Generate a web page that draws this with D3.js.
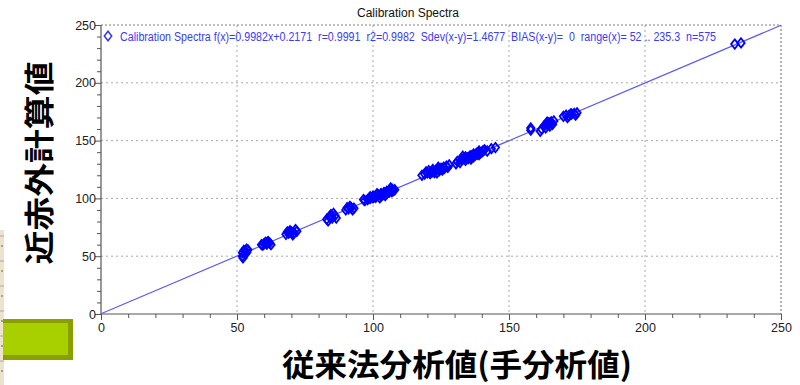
<!DOCTYPE html>
<html>
<head>
<meta charset="utf-8">
<script src="https://cdn.jsdelivr.net/npm/d3@7"></script>
<style>
  html, body { margin: 0; padding: 0; background: #ffffff; }
  svg { display: block; }
</style>
</head>
<body>
<svg id="chart" width="800" height="385"></svg>
<script>
// Reference (conventional, manual) analysis values
const refValues = [
  52, 52.5, 53, 53.5, 52, 52.2, 53, 54, 52.8, 53.6,
  59, 60, 61, 62, 60.5, 59.5, 61.5, 62.5, 60.8, 61.2,
  68, 69, 70, 71, 69.5, 70.5, 72, 68.5, 71.5, 70.2, 69.2,
  83, 84, 85, 86, 84.5, 83.5, 85.5, 86.5, 84.8,
  90, 91, 92, 93, 91.5, 92.5, 90.5, 91.8,
  97, 98, 99, 100, 100, 101, 102, 103, 103, 104, 105, 105, 106, 106, 107, 107, 108, 101.5, 104.5, 99, 102.5, 106.5, 96.5,
  100.5, 101.8, 102.8, 103.6, 104.2, 105.3, 105.8, 106.8, 107.5, 98.5,
  118, 119, 120, 121, 122, 122, 123, 124, 125, 124, 126, 127, 125.5, 120.5, 123.5, 128, 119.5,
  121.5, 122.6, 123.2, 124.4, 125.2, 126.3, 121, 127.5,
  131, 132, 133, 134, 134, 135, 136, 137, 137, 138, 139, 139, 140, 141, 136, 133, 142, 143.5, 145, 130.5,
  132.5, 133.6, 134.8, 135.5, 136.4, 137.6, 138.4, 139.6, 140.5, 135, 138.8,
  158, 158,
  162, 163, 164, 165, 166, 164, 166.5, 163.5, 165, 161.5, 164.6, 165.5,
  170, 171, 172, 173, 174, 175, 174.5, 171.5, 172.6,
  233, 235.3
];
// NIR predicted values
const nirValues = [
  53, 55, 54, 56, 50, 48.5, 52, 55.5, 54.5, 53.2,
  60, 61, 60.5, 61.5, 62, 59.5, 62.5, 60, 61.2, 62.2,
  69, 70, 71, 70, 72, 68.5, 71.5, 71, 73, 70.2, 70.8,
  82, 84, 83, 85, 86, 80.5, 87, 83, 84.6,
  90, 91, 92, 91.5, 93, 90, 92, 92.4,
  98, 99, 100, 100.5, 102, 101, 103, 102, 104, 105, 104, 106, 105.5, 107, 106, 108, 107.5, 104, 102.5, 101.5, 100.5, 109, 99,
  101.5, 102.4, 103.6, 103, 104.6, 105, 106.6, 106.2, 106.8, 100,
  120, 121, 122, 121.5, 123, 125, 124, 125, 126, 127, 127, 128, 124.5, 124, 122, 129, 123,
  123, 122.4, 124.4, 124, 125.6, 126, 121.8, 126.8,
  132, 131, 134, 133, 136, 135, 137, 136, 138.5, 139, 138, 141, 140, 142, 134, 136.5, 141, 143, 144, 130,
  133.4, 134.6, 135, 136.4, 135.6, 137.4, 138.2, 139.4, 141.2, 134.4, 140,
  159, 161,
  160, 163, 164, 165, 164, 166, 167, 161, 162.5, 158, 165.2, 166.2,
  171, 172, 171.5, 173, 173.5, 174, 172, 170, 172.8,
  233.5, 234.5
];

const xTicks = [0, 50, 100, 150, 200, 250];
const yTicks = [0, 50, 100, 150, 200, 250];
const fitSlope = 0.9982;
const fitIntercept = 0.2171;

const chartTitle = "Calibration Spectra";
const legendLabel = "Calibration Spectra f(x)=0.9982x+0.2171  r=0.9991  r2=0.9982  Sdev(x-y)=1.4677  BIAS(x-y)=  0  range(x)= 52 .. 235.3  n=575";
const xAxisTitle = "従来法分析値(手分析値)";
const yAxisTitle = "近赤外計算値";

const svg = d3.select("#chart");
const plot = { left: 101, right: 781, top: 25, bottom: 314 };

const x = d3.scaleLinear().domain([0, 250]).range([plot.left, plot.right]);
const y = d3.scaleLinear().domain([0, 250]).range([plot.bottom, plot.top]);

// Slide decoration at the lower left
svg.append("rect").attr("x", 0).attr("y", 230).attr("width", 4).attr("height", 155).attr("fill", "#ece2cf");
d3.range(236, 385, 25).forEach(v => {
  svg.append("line").attr("x1", 0).attr("x2", 4).attr("y1", v).attr("y2", v)
    .attr("stroke", "#9a9a9a").attr("stroke-width", 0.8);
  svg.append("circle").attr("cx", 2).attr("cy", v + 10).attr("r", 0.9).attr("fill", "#6a9a40");
});
svg.append("rect").attr("x", 3).attr("y", 319).attr("width", 70).attr("height", 41).attr("fill", "#8a9f00");
svg.append("rect").attr("x", 3).attr("y", 323).attr("width", 65).attr("height", 32).attr("fill", "#a8d000");

// Grid lines
const grid = svg.append("g").attr("stroke", "#a8a8a8").attr("stroke-width", 1).attr("stroke-dasharray", "2,3");
[50, 100, 150, 200].forEach(v => {
  grid.append("line").attr("x1", x(v)).attr("x2", x(v)).attr("y1", plot.top).attr("y2", plot.bottom);
  grid.append("line").attr("x1", plot.left).attr("x2", plot.right).attr("y1", y(v)).attr("y2", y(v));
});
// Top and right frame
const frame = svg.append("g").attr("stroke", "#808080").attr("stroke-width", 1.2).attr("stroke-dasharray", "2,2");
frame.append("line").attr("x1", plot.left).attr("x2", plot.right).attr("y1", plot.top).attr("y2", plot.top);
frame.append("line").attr("x1", plot.right).attr("x2", plot.right).attr("y1", plot.top).attr("y2", plot.bottom);

// Axes
const xAxis = d3.axisBottom(x).tickValues(d3.range(0, 251, 10)).tickSize(4)
  .tickFormat(d => xTicks.includes(d) ? d : "");
const yAxis = d3.axisLeft(y).tickValues(d3.range(0, 251, 10)).tickSize(4)
  .tickFormat(d => yTicks.includes(d) ? d : "");

const gx = svg.append("g").attr("transform", `translate(0,${plot.bottom})`).call(xAxis);
const gy = svg.append("g").attr("transform", `translate(${plot.left},0)`).call(yAxis);
[gx, gy].forEach(g => {
  g.select(".domain").attr("stroke", "#555").attr("stroke-width", 1.2);
  g.selectAll(".tick line").attr("stroke", "#555");
  g.selectAll(".tick text").attr("fill", "#222")
    .style("font-family", "'Liberation Sans', Arial, sans-serif").style("font-size", "12.5px");
});
gx.selectAll(".tick").filter(d => xTicks.includes(d)).select("line").attr("y2", 6);
gy.selectAll(".tick").filter(d => yTicks.includes(d)).select("line").attr("x2", -6);
gx.selectAll(".tick text").attr("y", 9);
gy.selectAll(".tick text").attr("x", -5);
gx.select(".domain").attr("d", `M${plot.left},0H${plot.right}`);
gy.select(".domain").attr("d", `M0,${plot.bottom}V${plot.top}`);

// Regression line
svg.append("line")
  .attr("x1", x(0)).attr("y1", y(fitIntercept))
  .attr("x2", x(250)).attr("y2", y(fitSlope * 250 + fitIntercept))
  .attr("stroke", "#5a5aff").attr("stroke-width", 1.2);

// Open diamond marker
const diamond = {
  draw(ctx) {
    const w = 3.7, h = 4.7;
    ctx.moveTo(0, -h); ctx.lineTo(w, 0); ctx.lineTo(0, h); ctx.lineTo(-w, 0); ctx.closePath();
  }
};
const symbolPath = d3.symbol().type(diamond)();

const points = refValues.map((v, i) => [v, nirValues[i]]);
svg.append("g").selectAll("path").data(points).join("path")
  .attr("d", symbolPath)
  .attr("transform", d => `translate(${x(d[0])},${y(d[1])})`)
  .attr("fill", "none").attr("stroke", "#0000ff").attr("stroke-width", 1.8);

// Title
svg.append("text").attr("x", 408).attr("y", 17).attr("text-anchor", "middle")
  .style("font-family", "'Liberation Sans', Arial, sans-serif").style("font-size", "12px")
  .attr("fill", "#111").text(chartTitle);

// Legend
svg.append("path").attr("d", symbolPath).attr("transform", "translate(108,36)")
  .attr("fill", "none").attr("stroke", "#3333ff").attr("stroke-width", 1.5);
svg.append("text").attr("x", 120).attr("y", 40.5)
  .style("font-family", "'Liberation Sans', Arial, sans-serif").style("font-size", "12px")
  .attr("fill", "#3a3aff").attr("xml:space", "preserve")
  .attr("textLength", 596).attr("lengthAdjust", "spacingAndGlyphs")
  .text(legendLabel);

// Axis titles
svg.append("text").attr("x", 457).attr("y", 376).attr("text-anchor", "middle")
  .style("font-family", "'Noto Sans CJK JP', sans-serif").style("font-weight", "bold").style("font-size", "31px")
  .attr("fill", "#000").attr("textLength", 350).attr("lengthAdjust", "spacingAndGlyphs")
  .text(xAxisTitle);
svg.append("text").attr("transform", "translate(50,163) rotate(-90)").attr("text-anchor", "middle")
  .style("font-family", "'Noto Sans CJK JP', sans-serif").style("font-weight", "bold").style("font-size", "30px")
  .attr("fill", "#000").attr("textLength", 203).attr("lengthAdjust", "spacingAndGlyphs")
  .text(yAxisTitle);
</script>
</body>
</html>
